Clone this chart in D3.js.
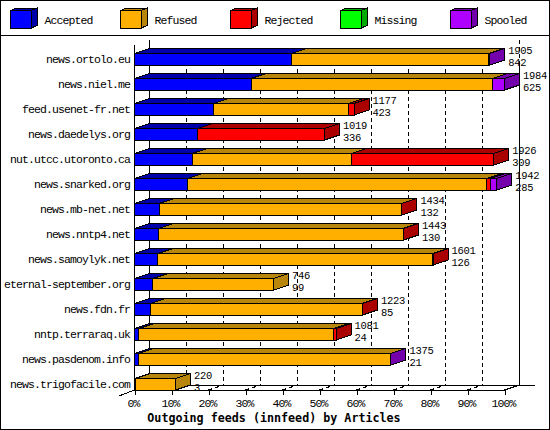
<!DOCTYPE html>
<html>
<head>
<meta charset="utf-8">
<script src="https://cdn.jsdelivr.net/npm/d3@7"></script>
<style>
  html, body { margin: 0; padding: 0; background: #fff; }
  svg { display: block; }
  text { font-family: "Liberation Mono", monospace; font-size: 11.5px; letter-spacing: -0.9px; fill: #000; }
  text.count { font-size: 10.5px; letter-spacing: -0.3px; }
  .line, polygon, rect { shape-rendering: crispEdges; }
</style>
</head>
<body>
<div id="chart"></div>
<script>
// values are article counts
const feeds = ['news.ortolo.eu', 'news.niel.me', 'feed.usenet-fr.net', 'news.daedelys.org',
  'nut.utcc.utoronto.ca', 'news.snarked.org', 'news.mb-net.net', 'news.nntp4.net',
  'news.samoylyk.net', 'eternal-september.org', 'news.fdn.fr', 'nntp.terraraq.uk',
  'news.pasdenom.info', 'news.trigofacile.com']
const totals = [1905, 1984, 1177, 1019, 1926, 1942, 1434, 1443, 1601, 746, 1223, 1081, 1375, 220]
const accepted = [842, 625, 423, 336, 309, 285, 132, 130, 126, 99, 85, 24, 21, 3]
const refused = [1058, 1294, 723, 0, 856, 1605, 1299, 1310, 1472, 647, 1135, 1042, 1350, 217]
const rejected = [0, 0, 31, 683, 761, 18, 3, 3, 3, 0, 3, 15, 0, 0]
const missing = [0, 0, 0, 0, 0, 0, 0, 0, 0, 0, 0, 0, 0, 0]
const spooled = [5, 65, 0, 0, 0, 34, 0, 0, 0, 0, 0, 0, 4, 0]

const names = ['Accepted', 'Refused', 'Rejected', 'Missing', 'Spooled']
const colors = ['#0000ff', '#ffaf00', '#ff0000', '#00ff00', '#af00ff']
const darks = ['#0000aa', '#b8860b', '#aa0000', '#00aa00', '#7300aa']
const percents = [0, 10, 20, 30, 40, 50, 60, 70, 80, 90, 100]

const series = [accepted, refused, rejected, missing, spooled]
const rows = feeds.map(function(f, i) {
  const r = { feed: f, total: totals[i], accepted: accepted[i] }
  names.forEach(function(n, k) { r[n] = series[k][i] })
  return r
})
const stacked = d3.stack().keys(names)(rows)

const dx = 15, dy = 5, barH = 11.5
const x = d3.scaleLinear().domain([0, 1984]).range([134.5, 504.5])
const pct = d3.scaleLinear().domain([0, 100]).range([134.5, 504.5])
const y = d3.scalePoint().domain(feeds).range([53.5, 378.5])
const floorY = 390, topY = 40

const svg = d3.select('#chart').append('svg').attr('width', 550).attr('height', 430)

function line(x1, y1, x2, y2, dash) {
  svg.append('line').attr('class', 'line')
    .attr('x1', x1).attr('y1', y1).attr('x2', x2).attr('y2', y2)
    .attr('stroke', '#000').attr('stroke-dasharray', dash || null)
}

// frame and legend
svg.append('rect').attr('x', 0.5).attr('y', 0.5).attr('width', 548.5).attr('height', 428.5)
  .attr('fill', '#fff').attr('stroke', '#000')
line(0, 35.5, 550, 35.5)

names.forEach(function(n, i) {
  const lx = 10.5 + i * 110, ly = 10.5, w = 20.5, h = 17.5, ox = 6.5, oy = 2.5
  const g = svg.append('g').attr('stroke', '#000')
  g.append('polygon').attr('fill', darks[i])
    .attr('points', [[lx, ly], [lx + ox, ly - oy], [lx + w + ox, ly - oy], [lx + w, ly]].join(' '))
  g.append('polygon').attr('fill', darks[i])
    .attr('points', [[lx + w, ly], [lx + w + ox, ly - oy], [lx + w + ox, ly + h - oy], [lx + w, ly + h]].join(' '))
  g.append('rect').attr('x', lx).attr('y', ly).attr('width', w).attr('height', h).attr('fill', colors[i])
  svg.append('text').attr('x', 44.5 + i * 110).attr('y', 24).text(n)
})

// grid on the back wall, and the floor
percents.forEach(function(p) {
  const px = pct(p)
  if (p === 0) {
    line(px + dx, topY, px + dx, floorY - dy)
  } else if (p === 100) {
    line(px + dx, topY, px + dx, 63, '4 3')
    line(px + dx, 63, px + dx, floorY - dy)
  } else {
    line(px + dx, 48, px + dx, floorY - dy, '4 3')
    line(px, floorY, px + dx, floorY - dy, '4 3')
  }
})
line(x(0) + dx, floorY - dy, 535, floorY - dy)
line(x(0), 45, x(0), floorY)
line(x(0), floorY, x(1984), floorY)
line(119, 396, x(0), floorY)
line(x(0), floorY, x(0) + dx, floorY - dy)
line(x(1984), floorY, x(1984) + dx, floorY - dy)

// percent axis on the front edge
const axis = d3.axisBottom(pct).tickValues(percents)
  .tickFormat(function(d) { return d + '%' }).tickSize(5).tickPadding(4)
const axisG = svg.append('g').attr('transform', 'translate(0,' + floorY + ')').call(axis)
axisG.select('.domain').remove()
axisG.selectAll('line').attr('class', 'line').attr('stroke', '#000')
axisG.selectAll('text').attr('dx', -1.5)
axisG.attr('font-family', null).attr('font-size', null)

// bars, one box per non empty segment
stacked.forEach(function(layer, k) {
  layer.forEach(function(d) {
    if (d[1] <= d[0]) return
    const top = y(d.data.feed), x0 = x(d[0]), x1 = x(d[1])
    const g = svg.append('g').attr('stroke', '#000')
    g.append('polygon').attr('fill', darks[k])
      .attr('points', [[x0, top], [x0 + dx, top - dy], [x1 + dx, top - dy], [x1, top]].join(' '))
    g.append('rect').attr('x', x0).attr('y', top).attr('width', x1 - x0).attr('height', barH)
      .attr('fill', colors[k])
    // the right hand side shows the colour of the last segment
    if (d[1] === d3.sum(names, function(n) { return d.data[n] })) {
      g.append('polygon').attr('fill', darks[k])
        .attr('points', [[x1, top], [x1 + dx, top - dy], [x1 + dx, top + barH - dy], [x1, top + barH]].join(' '))
    }
  })
})

// feed names and the two counts next to each bar
rows.forEach(function(r) {
  const top = y(r.feed)
  svg.append('text').attr('x', 130).attr('y', top + 9.5).attr('text-anchor', 'end').text(r.feed)
  const lx = x(r.total) + dx + 3.5
  svg.append('text').attr('class', 'count').attr('x', lx).attr('y', top).text(r.total)
  svg.append('text').attr('class', 'count').attr('x', lx).attr('y', top + 12).text(r.accepted)
})

svg.append('text').attr('x', 274).attr('y', 421.5).attr('text-anchor', 'middle')
  .style('font-family', '"DejaVu Sans Mono", monospace')
  .style('letter-spacing', '0').style('font-size', '11.7px').style('font-weight', 'bold')
  .text('Outgoing feeds (innfeed) by Articles')
</script>
</body>
</html>
